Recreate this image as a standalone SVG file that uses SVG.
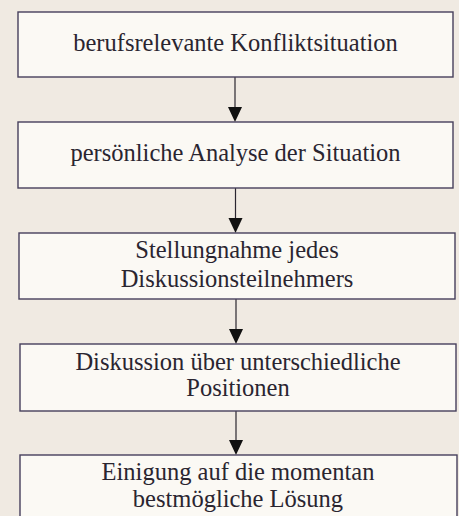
<svg xmlns="http://www.w3.org/2000/svg" width="459" height="516" viewBox="0 0 459 516">
<style>
.box{fill:#fbf9f4;stroke:#463f5c;stroke-width:1.4}
.t{font-family:'Liberation Serif','DejaVu Serif',serif;font-size:24.5px;fill:#2a2530;text-anchor:middle}
.c{stroke:#2a2530;stroke-width:1.2;fill:none}
.ah{fill:#111}
</style>
<rect width="459" height="516" fill="#f0eae2"/>
<g id="connectors">
<line class="c" x1="235" y1="77" x2="235" y2="108"/>
<polygon class="ah" points="228,107 242,107 235,122"/>
<line class="c" x1="235.5" y1="188" x2="235.5" y2="219"/>
<polygon class="ah" points="228.5,218 242.5,218 235.5,233"/>
<line class="c" x1="236" y1="299" x2="236" y2="330"/>
<polygon class="ah" points="229,329 243,329 236,344"/>
<line class="c" x1="236" y1="411" x2="236" y2="441"/>
<polygon class="ah" points="229,440 243,440 236,455"/>
</g>
<g id="n1">
<rect class="box" x="18" y="12" width="435" height="65"/>
<text class="t" x="235.5" y="51">berufsrelevante Konfliktsituation</text>
</g>
<g id="n2">
<rect class="box" x="18" y="122" width="435" height="66"/>
<text class="t" x="235.5" y="161">persönliche Analyse der Situation</text>
</g>
<g id="n3">
<rect class="box" x="19" y="233" width="436" height="66"/>
<text class="t" x="237" y="258">Stellungnahme jedes</text>
<text class="t" x="237" y="287">Diskussionsteilnehmers</text>
</g>
<g id="n4">
<rect class="box" x="20" y="344" width="436" height="67"/>
<text class="t" x="238" y="370">Diskussion über unterschiedliche</text>
<text class="t" x="238" y="396">Positionen</text>
</g>
<g id="n5">
<rect class="box" x="20" y="455" width="437" height="70"/>
<text class="t" x="238" y="480">Einigung auf die momentan</text>
<text class="t" x="238" y="507">bestmögliche Lösung</text>
</g>
</svg>
